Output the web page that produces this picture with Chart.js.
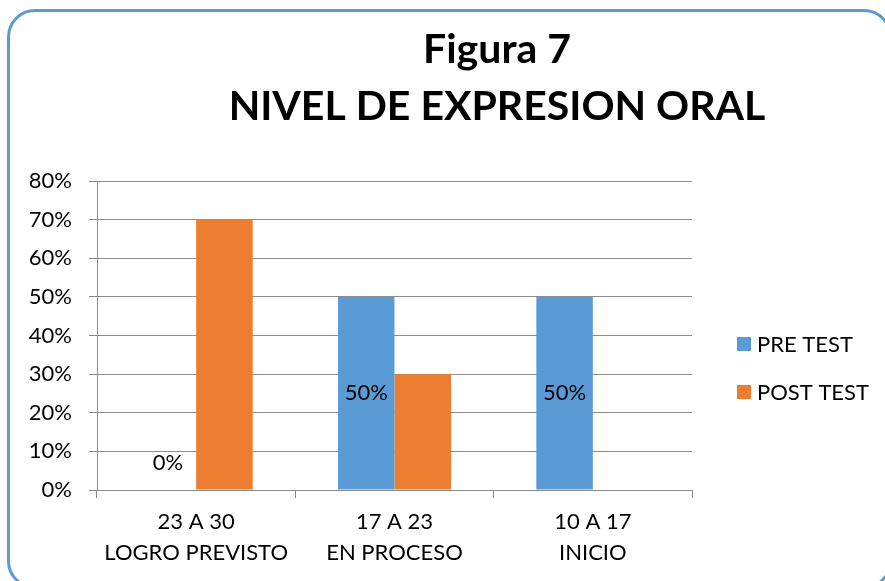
<!DOCTYPE html>
<html>
<head>
<meta charset="utf-8">
<script src="https://cdn.jsdelivr.net/npm/chart.js@4"></script>
<style>
  html, body { margin: 0; padding: 0; background: #fff; overflow: hidden; }
  #wrap { position: relative; width: 885px; height: 581px; }
  #frame {
    position: absolute; left: 7px; top: 9px; width: 885px; height: 580px;
    border: 3px solid #5b9bd5; border-radius: 28px; box-sizing: border-box;
    pointer-events: none;
  }
  canvas { position: absolute; left: 0; top: 0; }
</style>
</head>
<body>
<div id="wrap">
  <canvas id="chart" width="885" height="581"></canvas>
  <div id="frame"></div>
</div>
<script>
const titulo = ["Figura 7", "NIVEL DE EXPRESION ORAL"];
const categorias = [["23 A 30", "LOGRO PREVISTO"], ["17 A 23", "EN PROCESO"], ["10 A 17", "INICIO"]];
const preTest = [0, 50, 50];
const postTest = [70, 30, 0];
const etiquetasPre = ["0%", "50%", "50%"];
const fuente = "Lato, Carlito, Calibri, sans-serif";
const gris = "#8c8c8c";

// titulo, leyenda y etiquetas dibujados a mano
const extras = {
    id: "extras",
    afterDraw(chart){
        const ctx = chart.ctx;
        ctx.save();
        ctx.fillStyle = "#000";
        ctx.textAlign = "center";
        ctx.textBaseline = "middle";
        ctx.font = "bold 41px " + fuente;
        ctx.fillText(titulo[0], 497, 50);
        ctx.fillText(titulo[1], 497, 107);

        // etiquetas PRE TEST
        ctx.font = "22px " + fuente;
        const meta = chart.getDatasetMeta(0);
        meta.data.forEach(function(bar, i){
            let y = (bar.y + bar.base) / 2;
            if (y > bar.base - 27) y = bar.base - 27;
            ctx.fillText(etiquetasPre[i], bar.x, y);
        });

        // leyenda
        ctx.textAlign = "left";
        chart.data.datasets.forEach(function(ds, i){
            const yy = 344 + i * 48;
            ctx.fillStyle = ds.backgroundColor;
            ctx.fillRect(737, yy - 7, 14, 14);
            ctx.fillStyle = "#000";
            ctx.fillText(ds.label, 757, yy + 1);
        });
        ctx.restore();
    }
};

let canv = document.getElementById("chart");
let latestChart = new Chart(canv, {
    type: "bar",
    data: {
        labels: categorias,
        datasets: [
            { label: "PRE TEST", data: preTest, backgroundColor: "#5b9bd5" },
            { label: "POST TEST", data: postTest, backgroundColor: "#ed7d31" }
        ]
    },
    options: {
        responsive: false,
        animation: false,
        layout: { padding: { top: 181, right: 193, left: 0, bottom: 0 } },
        datasets: { bar: { categoryPercentage: 0.57, barPercentage: 1.0 } },
        plugins: {
            legend: { display: false },
            tooltip: { enabled: false }
        },
        scales: {
            x: {
                grid: { offset: true, drawOnChartArea: false, color: gris, tickLength: 8 },
                border: { color: gris },
                ticks: { color: "#000", padding: 9, font: { family: fuente, size: 22, lineHeight: 1.4 }, maxRotation: 0 },
                afterFit: function(scale){ scale.height = 91; }
            },
            y: {
                min: 0, max: 80,
                grid: { color: gris, tickLength: 8 },
                border: { color: gris },
                ticks: {
                    stepSize: 10, color: "#000", padding: 17,
                    font: { family: fuente, size: 22 },
                    callback: function(v){ return v + "%"; }
                },
                afterFit: function(scale){ scale.width = 97; }
            }
        }
    },
    plugins: [extras]
});
</script>
</body>
</html>
